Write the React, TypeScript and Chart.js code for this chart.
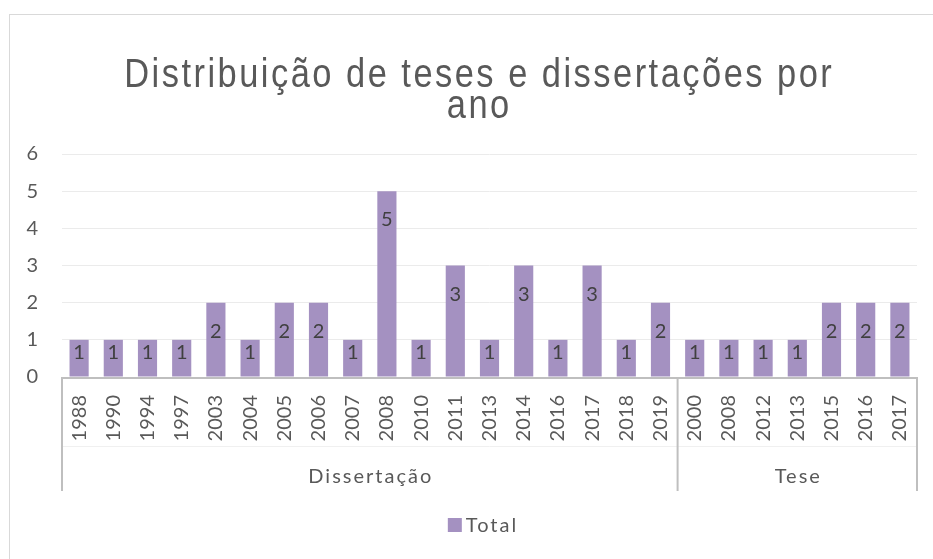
import React, { useEffect, useRef } from "react";
import { Chart, registerables } from "chart.js";
Chart.register(...registerables);

const titleLines = ["Distribuição de teses e dissertações por", "ano"];
const years = [
  "1988", "1990", "1994", "1997", "2003", "2004", "2005", "2006", "2007",
  "2008", "2010", "2011", "2013", "2014", "2016", "2017", "2018", "2019",
  "2000", "2008", "2012", "2013", "2015", "2016", "2017",
];
const groups = ["Dissertação", "Tese"];
const groupSizes = [18, 7];
const totals = [
  1, 1, 1, 1, 2, 1, 2, 2, 1, 5, 1, 3, 1, 3, 1, 3, 1, 2,
  1, 1, 1, 1, 2, 2, 2,
];
const seriesName = "Total";
const yTicks = [0, 1, 2, 3, 4, 5, 6];

const BAR = "#A491C1";
const TEXT = "#595959";
const AXIS = "#BFBFBF";
const FONT = "Lato, 'Open Sans', sans-serif";

const framePlugin = {
  id: "frame",
  beforeDraw(chart: any) {
    const { ctx } = chart;
    ctx.save();
    ctx.fillStyle = "#ffffff";
    ctx.fillRect(0, 0, chart.width, chart.height);
    ctx.strokeStyle = "#D9D9D9";
    ctx.lineWidth = 1;
    ctx.strokeRect(9.5, 14.5, 2000, 2000);
    ctx.restore();
  },
};

const titlePlugin = {
  id: "customTitle",
  afterDraw(chart: any) {
    const { ctx } = chart;
    const sx = 0.84;
    const target = 710;
    const cx = 478;
    ctx.save();
    ctx.fillStyle = TEXT;
    ctx.font = "41px 'Liberation Sans', Arial, sans-serif";
    ctx.textAlign = "center";
    ctx.textBaseline = "alphabetic";
    const w0 = ctx.measureText(titleLines[0]).width;
    const lsScreen = Math.max(0, (target - w0 * sx) / titleLines[0].length);
    (ctx as any).letterSpacing = `${(lsScreen / sx).toFixed(2)}px`;
    ctx.scale(sx, 1);
    titleLines.forEach((line, i) => {
      ctx.fillText(line, (cx + lsScreen / 2) / sx, 87 + i * 31);
    });
    ctx.restore();
  },
};

const labelsPlugin = {
  id: "barLabels",
  afterDatasetsDraw(chart: any) {
    const { ctx } = chart;
    const meta = chart.getDatasetMeta(0);
    ctx.save();
    ctx.fillStyle = "#404040";
    ctx.font = `20px ${FONT}`;
    ctx.textAlign = "center";
    ctx.textBaseline = "alphabetic";
    meta.data.forEach((bar: any, i: number) => {
      const top = bar.y;
      const h = bar.base - bar.y;
      const center = h > 50 ? top + 28 : top + 12;
      ctx.fillText(String(totals[i]), bar.x, center + 7);
    });
    ctx.restore();
  },
};

const axisPlugin = {
  id: "groupAxis",
  afterDraw(chart: any) {
    const { ctx, chartArea } = chart;
    const xs = chart.scales.x;
    const bottom = chartArea.bottom;
    const lineBottom = bottom + 114;
    ctx.save();
    ctx.strokeStyle = "#F0F0F0";
    ctx.lineWidth = 1;
    ctx.beginPath();
    ctx.moveTo(chartArea.left, bottom + 69.5);
    ctx.lineTo(chartArea.right, bottom + 69.5);
    ctx.stroke();
    ctx.strokeStyle = AXIS;
    ctx.lineWidth = 2;
    ctx.beginPath();
    ctx.moveTo(chartArea.left - 1, bottom + 1);
    ctx.lineTo(chartArea.right + 1, bottom + 1);
    ctx.stroke();
    const bounds: number[] = [chartArea.left];
    let idx = 0;
    groupSizes.forEach((n, g) => {
      idx += n;
      if (g < groupSizes.length - 1) {
        bounds.push((xs.getPixelForValue(idx - 1) + xs.getPixelForValue(idx)) / 2);
      }
    });
    bounds.push(chartArea.right);
    bounds.forEach((x) => {
      ctx.beginPath();
      ctx.moveTo(x, bottom);
      ctx.lineTo(x, lineBottom);
      ctx.stroke();
    });
    ctx.fillStyle = TEXT;
    ctx.font = `20px ${FONT}`;
    (ctx as any).letterSpacing = "2px";
    ctx.textAlign = "center";
    ctx.textBaseline = "middle";
    groups.forEach((g, i) => {
      ctx.fillText(g, (bounds[i] + bounds[i + 1]) / 2 + 1, bottom + 100);
    });
    const tw = ctx.measureText(seriesName).width;
    const total = 14 + 4 + tw;
    const lx = 483 - total / 2;
    ctx.fillStyle = BAR;
    ctx.fillRect(lx, 518, 14, 14);
    ctx.fillStyle = TEXT;
    ctx.textAlign = "left";
    ctx.fillText(seriesName, lx + 18, 526);
    ctx.restore();
  },
};

export default function App() {
  const ref = useRef<HTMLCanvasElement | null>(null);
  useEffect(() => {
    if (!ref.current) return;
    const chart = new Chart(ref.current, {
      type: "bar",
      data: {
        labels: years,
        datasets: [
          {
            label: seriesName,
            data: totals,
            backgroundColor: BAR,
            barPercentage: 0.56,
            categoryPercentage: 1,
          },
        ],
      },
      options: {
        animation: false,
        responsive: false,
        maintainAspectRatio: false,
        layout: { padding: { top: 154, left: 0, right: 16, bottom: 68 } },
        plugins: {
          legend: { display: false },
          title: { display: false },
          tooltip: { enabled: false },
        },
        scales: {
          x: {
            offset: true,
            grid: { display: false, drawTicks: false },
            border: { display: false },
            ticks: {
              autoSkip: false,
              minRotation: 90,
              maxRotation: 90,
              padding: 18,
              color: TEXT,
              font: { family: FONT, size: 20 },
            },
            afterFit(scale: any) {
              scale.height = 114;
              scale.paddingLeft = 0;
              scale.paddingRight = 0;
            },
          },
          y: {
            min: 0,
            max: 6,
            afterBuildTicks(scale: any) {
              scale.ticks = yTicks.map((v) => ({ value: v }));
            },
            grid: { color: "#EBEBEB", lineWidth: 1, drawTicks: false },
            border: { display: false },
            ticks: {
              padding: 24,
              color: TEXT,
              font: { family: FONT, size: 20 },
            },
            afterFit(scale: any) {
              scale.width = 62;
              scale.paddingTop = 0;
              scale.paddingBottom = 0;
            },
          },
        },
      },
      plugins: [framePlugin, titlePlugin, labelsPlugin, axisPlugin],
    });
    return () => chart.destroy();
  }, []);
  return (
    <div style={{ position: "fixed", left: 0, top: 0, width: 933, height: 559 }}>
      <canvas ref={ref} width={933} height={559} style={{ display: "block" }} />
    </div>
  );
}
